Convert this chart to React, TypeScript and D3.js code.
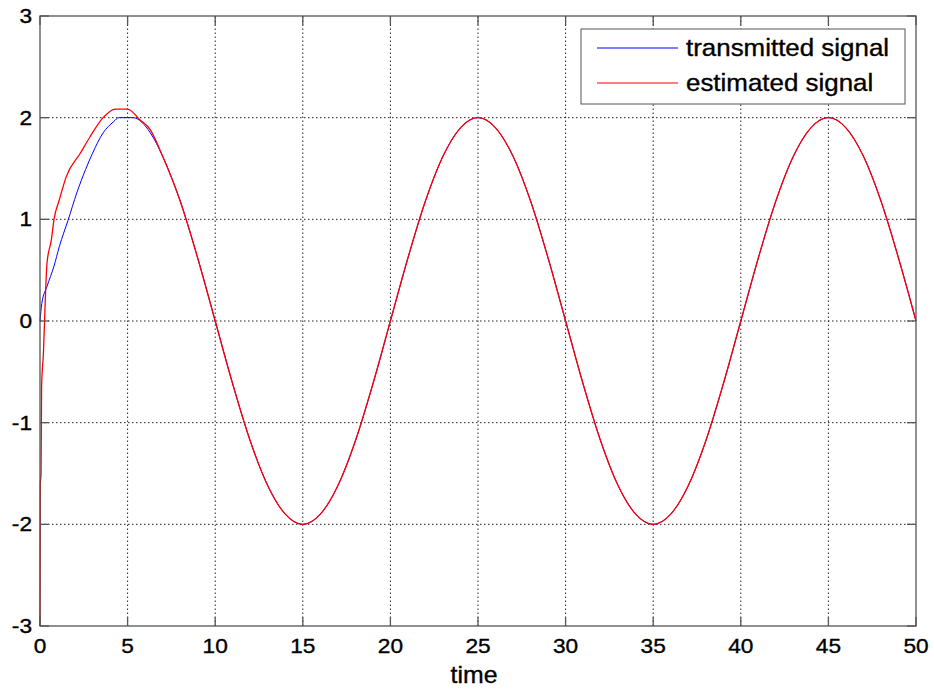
import React from "react";
import * as d3 from "d3";

// values
const xTicks = [0, 5, 10, 15, 20, 25, 30, 35, 40, 45, 50];
const yTicks = [-3, -2, -1, 0, 1, 2, 3];

const startT_tx = [0, 0.1, 0.4, 0.8, 1.1, 1.6, 2.1, 2.6, 3.0, 3.6, 4.2, 4.5, 5.3, 6.3];
const startV_tx = [0, 0.17, 0.34, 0.54, 0.73, 0.99, 1.26, 1.49, 1.65, 1.85, 1.96, 2.0, 2.0, 1.85];

const startT_est = [0, 0.02, 0.06, 0.09, 0.2, 0.3, 0.4, 0.65, 0.8, 1.1, 1.5, 2.3, 2.85, 3.6, 4.3, 5.0, 5.7, 6.3];
const startV_est = [-3, -1.6, -1.5, -0.65, -0.3, 0.2, 0.57, 0.8, 1.0, 1.19, 1.42, 1.65, 1.81, 2.0, 2.085, 2.085, 1.98, 1.88];

// both signals coincide from t = 7 on
const tailT = [7, 8, 9, 10, 11, 12, 13, 14, 15, 16, 17, 18, 19, 20, 21, 22, 23, 24, 25, 26, 27, 28, 29, 30,
  31, 32, 33, 34, 35, 36, 37, 38, 39, 40, 41, 42, 43, 44, 45, 46, 47, 48, 49, 50];
const tailV = [1.62, 1.18, 0.62, 0, -0.62, -1.18, -1.62, -1.9, -2.0, -1.9, -1.62, -1.18, -0.62, 0, 0.62, 1.18,
  1.62, 1.9, 2.0, 1.9, 1.62, 1.18, 0.62, 0, -0.62, -1.18, -1.62, -1.9, -2.0, -1.9, -1.62, -1.18, -0.62, 0,
  0.62, 1.18, 1.62, 1.9, 2.0, 1.9, 1.62, 1.18, 0.62, 0];

const seriesNames = ["transmitted signal", "estimated signal"];
const seriesColors = ["#0000ff", "#ff0000"];

const W = 934, H = 689;
const margin = { left: 40, right: 18, top: 16, bottom: 63 };
const FONT = "'Liberation Sans', Arial, sans-serif";
const SX = 1.08; // the picture is a bit wider than tall

function Label(props: { x: number; y: number; size: number; anchor?: string; children: any }) {
  return (
    <text
      transform={`translate(${props.x},${props.y}) scale(${SX},1)`}
      textAnchor={props.anchor || "start"}
      fontFamily={FONT}
      fontSize={props.size}
      fill="#000"
      stroke="#000"
      strokeWidth={0.35}
    >
      {props.children}
    </text>
  );
}

export default function App() {
  const x = d3.scaleLinear().domain([0, 50]).range([margin.left, W - margin.right]);
  const y = d3.scaleLinear().domain([-3, 3]).range([H - margin.bottom, margin.top]);

  const tx = startT_tx.map((t, i) => [t, startV_tx[i]]).concat(tailT.map((t, i) => [t, tailV[i]]));
  const est = startT_est.map((t, i) => [t, startV_est[i]]).concat(tailT.map((t, i) => [t, tailV[i]]));

  const line = d3
    .line<number[]>()
    .x((d) => x(d[0]))
    .y((d) => y(d[1]))
    .curve(d3.curveMonotoneX);

  const x0 = x(0), x1 = x(50), y0 = y(-3), y1 = y(3);
  const tick = 9;
  const lx = 581, ly = 29, lw = 324, lh = 75;

  return (
    <svg width={W} height={H} style={{ position: "absolute", left: 0, top: 0, background: "#fff" }}>
      <rect x={0} y={0} width={W} height={H} fill="#fff" />
      {/* grid */}
      <g stroke="#222" strokeWidth={1} strokeDasharray="1.5,2.5">
        {xTicks.slice(1, -1).map((t) => (
          <line key={"gx" + t} x1={x(t)} x2={x(t)} y1={y0} y2={y1} />
        ))}
        {yTicks.slice(1, -1).map((t) => (
          <line key={"gy" + t} x1={x0} x2={x1} y1={y(t)} y2={y(t)} />
        ))}
      </g>
      {/* lines */}
      <path d={line(tx) || ""} fill="none" stroke={seriesColors[0]} strokeWidth={1} />
      <path d={line(est) || ""} fill="none" stroke={seriesColors[1]} strokeWidth={1.3} />
      {/* box + ticks */}
      <g stroke="#555" strokeWidth={1.3} fill="none">
        <rect x={x0} y={y1} width={x1 - x0} height={y0 - y1} />
        {xTicks.map((t) => (
          <g key={"tx" + t}>
            <line x1={x(t)} x2={x(t)} y1={y0} y2={y0 - tick} />
            <line x1={x(t)} x2={x(t)} y1={y1} y2={y1 + tick} />
          </g>
        ))}
        {yTicks.map((t) => (
          <g key={"ty" + t}>
            <line x1={x0} x2={x0 + tick} y1={y(t)} y2={y(t)} />
            <line x1={x1} x2={x1 - tick} y1={y(t)} y2={y(t)} />
          </g>
        ))}
      </g>
      {/* tick labels */}
      {xTicks.map((t) => (
        <Label key={"lx" + t} x={x(t)} y={y0 + 27} size={21} anchor="middle">
          {t}
        </Label>
      ))}
      {yTicks.map((t) => (
        <Label key={"ly" + t} x={x0 - 8} y={y(t) + 7} size={21} anchor="end">
          {t}
        </Label>
      ))}
      <Label x={(x0 + x1) / 2 - 4} y={683} size={23} anchor="middle">
        time
      </Label>
      {/* legend */}
      <rect x={lx} y={ly} width={lw} height={lh} fill="#fff" stroke="#555" strokeWidth={1} />
      {seriesNames.map((name, i) => (
        <g key={name}>
          <line x1={lx + 16} x2={lx + 97} y1={ly + 19 + i * 35} y2={ly + 19 + i * 35} stroke={seriesColors[i]} strokeWidth={1} />
          <Label x={lx + 105} y={ly + 27 + i * 35} size={24}>
            {name}
          </Label>
        </g>
      ))}
    </svg>
  );
}
